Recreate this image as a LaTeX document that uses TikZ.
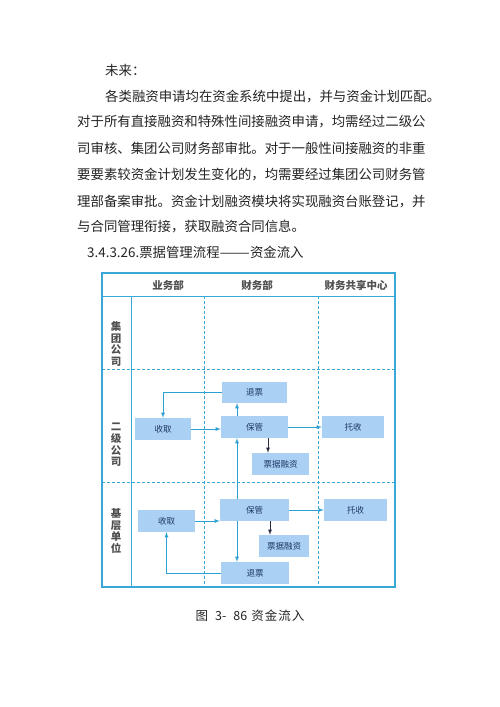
\documentclass[tikz,border=0pt]{standalone}
\usepackage{fontspec}
\setmainfont{Noto Sans CJK SC}
\usepackage{graphicx}
\usepackage{tikz}
\usetikzlibrary{positioning}
\definecolor{rahmen}{RGB}{56,168,214}
\definecolor{kasten}{RGB}{170,208,244}
\definecolor{kastentext}{RGB}{31,56,100}
\definecolor{pfeil}{RGB}{45,160,210}
\definecolor{dunkel}{RGB}{45,45,70}
\definecolor{textgrau}{RGB}{35,35,35}
\tikzset{
  zeile/.style={anchor=west, inner sep=0pt, text=textgrau, font=\fontsize{13.4}{16}\selectfont},
  kopf/.style={inner sep=0pt, text=textgrau!80, font=\fontsize{10.5}{12}\selectfont\bfseries},
  ebene/.style={inner sep=0pt, align=center, text=textgrau!80, font=\fontsize{10.5}{11.7}\selectfont\bfseries},
  box/.style={fill=kasten, inner sep=0pt, text=kastentext, font=\fontsize{8.5}{10}\selectfont},
  fluss/.style={->, color=pfeil, line width=0.8pt},
  fluss2/.style={->, color=dunkel, line width=0.8pt},
  trenn/.style={color=rahmen, line width=0.9pt, dash pattern=on 3pt off 2pt}
}

\begin{document}
\begin{tikzpicture}[x=1pt, y=-1pt, >=latex]
\useasboundingbox (0,0) rectangle (500,707);

% Text
\node[zeile] (l1) at (105,70) {未来：};
\node[zeile] (l2) at (105,97) {各类融资申请均在资金系统中提出，并与资金计划匹配。};
\node[zeile] (l3) at (77,122) {对于所有直接融资和特殊性间接融资申请，均需经过二级公};
\node[zeile] (l4) at (77,148) {司审核、集团公司财务部审批。对于一般性间接融资的非重};
\node[zeile] (l5) at (77,175) {要要素较资金计划发生变化的，均需要经过集团公司财务管};
\node[zeile] (l6) at (77,202) {理部备案审批。资金计划融资模块将实现融资台账登记，并};
\node[zeile] (l7) at (77,227) {与合同管理衔接，获取融资合同信息。};
\node[zeile] (l8) at (87,252) {3.4.3.26.票据管理流程\scalebox{1.35}[1]{——}资金流入};

% Rahmen
\draw[rahmen, line width=1.5pt] (102,273) rectangle (395,587);
\draw[rahmen, line width=0.9pt] (102,296) -- (395,296);
\draw[rahmen, line width=0.9pt] (131,296) -- (131,587);
\foreach \x in {204,318}
\draw[trenn] (\x,296) -- (\x,587);
\foreach \y in {369,482}
\draw[trenn] (102,\y) -- (395,\y);

% Kopfzeile
\node[kopf] (k1) at (168,285) {业务部};
\node[kopf] (k2) at (257,285) {财务部};
\node[kopf] (k3) at (356,285) {财务共享中心};

% Ebenen
\node[ebene] (e1) at (116,344) {集\\团\\公\\司};
\node[ebene] (e2) at (116,445) {二\\级\\公\\司};
\node[ebene] (e3) at (116,531) {基\\层\\单\\位};

% Kaesten, zweite Ebene
\node[box, minimum width=65, minimum height=21] (tp2) at (254.5,392.5) {退票};
\node[box, minimum width=56, minimum height=22] (sq2) at (163,429) {收取};
\node[box, minimum width=67, minimum height=22] (bg2) at (254.5,427) {保管};
\node[box, minimum width=62, minimum height=22] (ts2) at (353,427) {托收};
\node[box, minimum width=57, minimum height=22] (rz2) at (280.5,464) {票据融资};

% Kaesten, Basis
\node[box, minimum width=69, minimum height=22] (bg3) at (254.5,510) {保管};
\node[box, minimum width=63, minimum height=22] (ts3) at (355.5,510) {托收};
\node[box, minimum width=57, minimum height=22] (sq3) at (166.5,521) {收取};
\node[box, minimum width=50, minimum height=22] (rz3) at (284,546) {票据融资};
\node[box, minimum width=68, minimum height=22] (tp3) at (255,573) {退票};

% Hilfspunkte
\coordinate (mitte) at (237,0);
\coordinate (r2) at (268,0);
\coordinate (r3) at (270,0);

% Pfeile
\draw[fluss] (tp2.west) -| (sq2.north);
\draw[fluss] (sq2.east) -- (sq2.east -| bg2.west);
\draw[fluss] (bg2.north -| mitte) -- (tp2.south -| mitte);
\draw[fluss] (bg2.east) -- (ts2.west);
\draw[fluss2] (bg2.south -| r2) -- (rz2.north -| r2);
\draw[fluss] (bg3.north -| mitte) -- (bg2.south -| mitte);
\draw[fluss] (bg3.south -| mitte) -- (tp3.north -| mitte);
\draw[fluss] (sq3.east) -- (sq3.east -| bg3.west);
\draw[fluss] (bg3.east) -- (ts3.west);
\draw[fluss2] (bg3.south -| r3) -- (rz3.north -| r3);
\draw[fluss] (tp3.west) -| (sq3.south);

% Bildunterschrift
\node[zeile, anchor=center, font=\fontsize{12.5}{14}\selectfont] (cap) at (250,616) {图\hspace{7pt}3-\hspace{7pt}86\hspace{4pt}资\hspace{1pt}金\hspace{1pt}流\hspace{1pt}入};
\end{tikzpicture}
\end{document}
